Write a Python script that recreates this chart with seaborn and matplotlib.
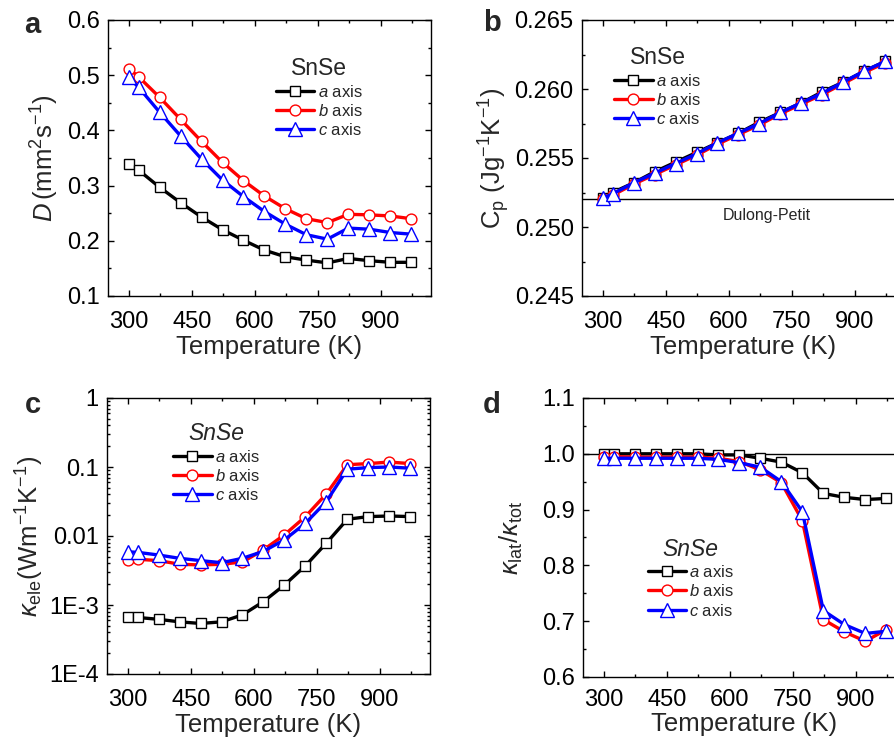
import numpy as np
import pandas as pd
import matplotlib
matplotlib.use("Agg")
import matplotlib.pyplot as plt
from matplotlib.ticker import MultipleLocator, FixedLocator, FuncFormatter, LogLocator, NullFormatter
import seaborn as sns

sns.set_style("ticks")
plt.rcParams["font.family"] = ["Liberation Sans", "DejaVu Sans"]
plt.rcParams["mathtext.fontset"] = "custom"
plt.rcParams["mathtext.rm"] = "Liberation Sans"
plt.rcParams["mathtext.it"] = "Liberation Sans:italic"
plt.rcParams["mathtext.bf"] = "Liberation Sans:bold"

# Temperatures (K)
T = [300, 323, 373, 423, 473, 523, 573, 623, 673, 723, 773, 823, 873, 923, 973]

# Thermal diffusivity D (mm^2 s^-1)
D_a = [0.339, 0.328, 0.297, 0.269, 0.243, 0.220, 0.201, 0.183, 0.171, 0.165, 0.160, 0.168, 0.164, 0.161, 0.161]
D_b = [0.512, 0.497, 0.460, 0.420, 0.380, 0.342, 0.309, 0.281, 0.258, 0.240, 0.233, 0.248, 0.247, 0.245, 0.240]
D_c = [0.496, 0.478, 0.433, 0.390, 0.348, 0.310, 0.280, 0.253, 0.230, 0.211, 0.203, 0.223, 0.221, 0.215, 0.212]

# Heat capacity Cp (J g^-1 K^-1)
Cp_a = [0.2521, 0.2525, 0.2532, 0.2540, 0.2547, 0.2554, 0.2561, 0.2568, 0.2576, 0.2583, 0.2590, 0.2598, 0.2605, 0.2613, 0.2620]
Cp_b = [0.2520, 0.2523, 0.2531, 0.2538, 0.2545, 0.2552, 0.2560, 0.2567, 0.2574, 0.2582, 0.2589, 0.2596, 0.2604, 0.2612, 0.2619]
Cp_c = [0.2521, 0.2524, 0.2532, 0.2539, 0.2546, 0.2553, 0.2561, 0.2568, 0.2575, 0.2583, 0.2590, 0.2597, 0.2605, 0.2613, 0.2620]
dulong_petit = 0.252

# Electronic thermal conductivity (W m^-1 K^-1)
k_a = [6.8e-4, 6.6e-4, 6.2e-4, 5.7e-4, 5.4e-4, 5.7e-4, 7.2e-4, 1.12e-3, 1.95e-3, 3.7e-3, 7.9e-3, 0.0175, 0.0191, 0.0195, 0.0191]
k_b = [4.5e-3, 4.6e-3, 4.4e-3, 3.9e-3, 3.8e-3, 3.9e-3, 4.2e-3, 6.3e-3, 0.0104, 0.0191, 0.0408, 0.108, 0.112, 0.118, 0.112]
k_c = [5.9e-3, 5.8e-3, 5.3e-3, 4.75e-3, 4.4e-3, 4.1e-3, 4.75e-3, 6.0e-3, 8.8e-3, 0.0153, 0.0316, 0.093, 0.098, 0.100, 0.096]

# Lattice / total thermal conductivity ratio
r_a = [1.000, 1.000, 1.000, 1.000, 1.000, 1.000, 0.998, 0.998, 0.992, 0.985, 0.966, 0.929, 0.922, 0.918, 0.920]
r_b = [0.995, 0.995, 0.994, 0.994, 0.994, 0.994, 0.992, 0.986, 0.971, 0.948, 0.880, 0.703, 0.681, 0.664, 0.685]
r_c = [0.992, 0.992, 0.992, 0.992, 0.992, 0.992, 0.990, 0.984, 0.976, 0.950, 0.896, 0.719, 0.694, 0.678, 0.682]

series_labels = [r"$\mathit{a}$ axis", r"$\mathit{b}$ axis", r"$\mathit{c}$ axis"]
colors = ["black", "red", "blue"]
markers = ["s", "o", "^"]
msizes = [7.0, 7.8, 9.5]

W, H = 894, 741
fig = plt.figure(figsize=(W / 100, H / 100), dpi=100)


def rect(l, t, r, b):
    return [l / W, 1 - b / H, (r - l) / W, (b - t) / H]


ax_a = fig.add_axes(rect(108, 20, 431, 296))
ax_b = fig.add_axes(rect(582, 20, 905, 296))
ax_c = fig.add_axes(rect(107, 398, 430, 674))
ax_d = fig.add_axes(rect(583, 398, 906, 677))


def draw(ax, ys):
    for y, lab, c, m, ms in zip(ys, series_labels, colors, markers, msizes):
        df = pd.DataFrame({"T": T, "v": y})
        sns.lineplot(data=df, x="T", y="v", ax=ax, color=c, marker=m, markersize=ms,
                     markerfacecolor="white", markeredgecolor=c, markeredgewidth=1.0,
                     linewidth=2.4, label=lab, legend=False)


def style(ax, xpad=11, xlabelpad=1):
    ax.set_xlim(250, 1020)
    ax.xaxis.set_major_locator(MultipleLocator(150))
    ax.xaxis.set_minor_locator(MultipleLocator(75))
    ax.tick_params(which="both", direction="in", top=True, right=True, width=1.0,
                   labelsize=17, colors="black")
    ax.tick_params(axis="x", pad=xpad)
    ax.tick_params(axis="y", pad=6)
    ax.tick_params(which="major", length=4.5)
    ax.tick_params(which="minor", length=2.5)
    for s in ax.spines.values():
        s.set_linewidth(1.0)
        s.set_color("black")
    ax.set_xlabel("Temperature (K)", fontsize=18.5, labelpad=xlabelpad)


def legend(ax, x, y, title, italic_title=False):
    leg = ax.legend(loc="upper left", bbox_to_anchor=(x, y), frameon=False,
                    fontsize=12, handlelength=2.3, handletextpad=0.2,
                    labelspacing=0.2, borderpad=0, borderaxespad=0,
                    title=title, title_fontsize=16.5, markerscale=1.0)
    if italic_title:
        leg.get_title().set_style("italic")
    return leg


# a: thermal diffusivity
draw(ax_a, [D_a, D_b, D_c])
style(ax_a)
ax_a.set_ylim(0.1, 0.6)
ax_a.yaxis.set_major_locator(MultipleLocator(0.1))
ax_a.yaxis.set_minor_locator(MultipleLocator(0.05))
ax_a.yaxis.set_major_formatter(FuncFormatter(lambda v, p: f"{v:.1f}"))
ax_a.set_ylabel(r"$\mathit{D}\,$(mm$^{2}$s$^{-1}$)", fontsize=18.5, labelpad=4)
legend(ax_a, 0.52, 0.865, "SnSe")

# b: heat capacity
draw(ax_b, [Cp_a, Cp_b, Cp_c])
ax_b.axhline(dulong_petit, color="black", lw=1.0, zorder=1)
style(ax_b)
ax_b.set_ylim(0.245, 0.265)
ax_b.yaxis.set_major_locator(MultipleLocator(0.005))
ax_b.yaxis.set_minor_locator(MultipleLocator(0.0025))
ax_b.yaxis.set_major_formatter(FuncFormatter(lambda v, p: f"{v:.3f}"))
ax_b.set_ylabel(r"C$_{\mathrm{p}}$ (Jg$^{-1}$K$^{-1}$)", fontsize=18.5, labelpad=2)
ax_b.text(690, 0.2508, "Dulong-Petit", fontsize=11.5, ha="center", va="center")
legend(ax_b, 0.10, 0.905, "SnSe")

# c: electronic thermal conductivity
draw(ax_c, [k_a, k_b, k_c])
style(ax_c)
ax_c.set_yscale("log")
ax_c.set_ylim(1e-4, 1)
ax_c.yaxis.set_major_locator(FixedLocator([1e-4, 1e-3, 1e-2, 1e-1, 1]))
ax_c.yaxis.set_minor_locator(LogLocator(base=10, subs=np.arange(2, 10) * 1.0))
ax_c.yaxis.set_minor_formatter(NullFormatter())
tick_txt = {1e-4: "1E-4", 1e-3: "1E-3", 1e-2: "0.01", 1e-1: "0.1", 1.0: "1"}
ax_c.yaxis.set_major_formatter(FuncFormatter(
    lambda v, p: min(tick_txt.items(), key=lambda kv: abs(np.log10(kv[0]) - np.log10(v)))[1]))
ax_c.set_ylabel(r"$\kappa_{\mathrm{ele}}$(Wm$^{-1}$K$^{-1}$)", fontsize=18.5, labelpad=2)
legend(ax_c, 0.205, 0.912, "SnSe", italic_title=True)

# d: lattice fraction of thermal conductivity
draw(ax_d, [r_a, r_b, r_c])
ax_d.axhline(1.0, color="black", lw=1.0, zorder=1)
style(ax_d, xpad=9, xlabelpad=0)
ax_d.set_ylim(0.6, 1.1)
ax_d.yaxis.set_major_locator(MultipleLocator(0.1))
ax_d.yaxis.set_minor_locator(MultipleLocator(0.05))
ax_d.yaxis.set_major_formatter(FuncFormatter(lambda v, p: f"{v:.1f}"))
ax_d.set_ylabel(r"$\kappa_{\mathrm{lat}}/\kappa_{\mathrm{tot}}$", fontsize=18.5, labelpad=12)
legend(ax_d, 0.20, 0.500, "SnSe", italic_title=True)

# panel letters
for lab, (x, y) in zip("abcd", [(32, 25), (492, 23), (33, 405), (492, 405)]):
    fig.text(x / W, 1 - y / H, lab, fontsize=21, fontweight="bold", ha="center", va="center")

fig.savefig("out.png", dpi=100)
